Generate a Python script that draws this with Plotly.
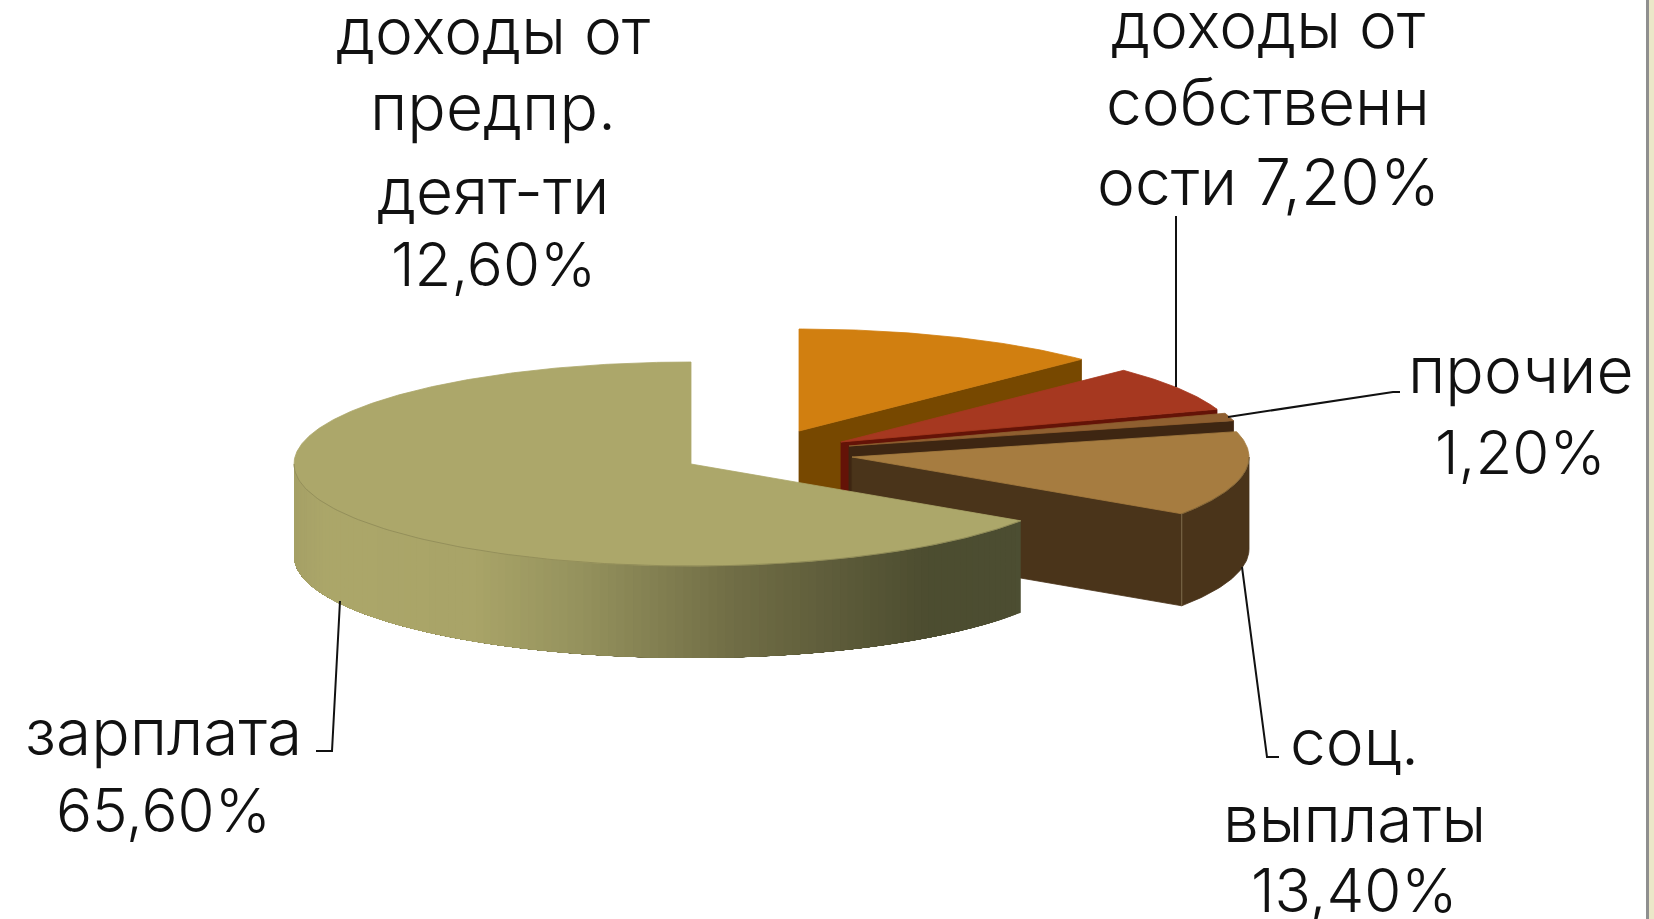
import numpy as np
import plotly.graph_objects as go

# ---- data (clockwise from 12 o'clock) ----
categories = ["доходы от предпр. деят-ти", "доходы от собственности", "прочие", "соц. выплаты", "зарплата"]
values = [12.6, 7.2, 1.2, 13.4, 65.6]
label_lines = [["доходы от", "предпр.", "деят-ти"], ["доходы от", "собственн"], ["прочие"], ["соц.", "выплаты"], ["зарплата"]]

# ---- style ----
top_colors = ["#d17f10", "#a63820", "#8f5f30", "#a67c40", "#aca76a"]
side_colors = ["#774800", "#641307", "#3e2612", "#4a341a", "#4c4e32"]
centers_x = [799, 841, 849, 852, 691]
centers_y = [431, 442, 446, 457, 464]
RX, RY, DEPTH = 397, 102, 92
FONT = "Inter"
FS_WORD = 64
FS_NUM = 60
TXT = "#111111"

grad_x = [292, 330, 480, 580, 730, 930, 1018]
grad_rgb = np.array([[165,160,102],[172,167,106],[169,164,104],[150,147,94],[114,111,71],[77,77,48],[76,78,50]], float)

fig = go.Figure()

def poly(xs, ys, fill, line=None, lw=0.8, name=""):
    fig.add_trace(go.Scatter(x=list(xs), y=list(ys), mode="lines", fill="toself", fillcolor=fill,
                             line=dict(color=line or fill, width=lw), hoverinfo="text", text=name,
                             showlegend=False))

def rim(i, deg, dz=0.0):
    t = np.radians(deg)
    return centers_x[i] + RX*np.sin(t), centers_y[i] - RY*np.cos(t) + dz

edges = np.concatenate([[0], np.cumsum(values)]) * 3.6
for i, cat in enumerate(categories):
    a, b = edges[i], edges[i+1]
    cx, cy = centers_x[i], centers_y[i]
    if i < 4:
        ex, ey = rim(i, b)
        poly([cx, ex, ex, cx, cx], [cy, ey, ey+DEPTH, cy+DEPTH, cy], side_colors[i], name=cat)
    lo, hi = max(a, 90), min(b, 270)
    if hi > lo:
        if i == 4:
            steps = np.linspace(lo, hi, 121)[:-1]
            for s0 in steps:
                th = np.linspace(s0, hi, 40)
                xs, ys = rim(i, th)
                rgb = [np.interp(xs[0], grad_x, grad_rgb[:, k]) for k in range(3)]
                c = "rgb(%d,%d,%d)" % tuple(rgb)
                poly(np.r_[xs, xs[::-1], xs[0]], np.r_[ys, ys[::-1]+DEPTH, ys[0]], c, lw=0, name=cat)
        else:
            th = np.linspace(lo, hi, 40)
            xs, ys = rim(i, th)
            poly(np.r_[xs, xs[::-1], xs[0]], np.r_[ys, ys[::-1]+DEPTH, ys[0]], side_colors[i], name=cat)
    th = np.linspace(a, b, max(8, int(b-a)*2))
    xs, ys = rim(i, th)
    poly(np.r_[cx, xs, cx], np.r_[cy, ys, cy], top_colors[i], name=cat)
    if i >= 3:
        th2 = np.linspace(max(a, 90), min(b, 270), 120)
        xs2, ys2 = rim(i, th2)
        fig.add_trace(go.Scatter(x=xs2, y=ys2, mode="lines", line=dict(color="#8a8555" if i == 4 else "#7a6238", width=0.7),
                                 hoverinfo="skip", showlegend=False))

sx, sy = rim(3, edges[4])
fig.add_trace(go.Scatter(x=[sx, sx], y=[sy, sy+DEPTH], mode="lines", line=dict(color="#7f6c4c", width=1),
                         hoverinfo="skip", showlegend=False))

def leader(xs, ys):
    fig.add_trace(go.Scatter(x=xs, y=ys, mode="lines", line=dict(color="#111111", width=2),
                             hoverinfo="skip", showlegend=False))
leader([1176, 1176], [216, 387])
leader([1228, 1393, 1400], [417, 392, 392])
leader([1242, 1267, 1279], [567, 757, 757])
leader([340, 332, 316], [601, 751, 751])

def pct(v):
    return f"{v:.2f}%".replace(".", ",")

blocks = [
    (493, [30, 106, 190, 264], label_lines[0] + [pct(values[0])]),
    (1268, [24, 101, 181], label_lines[1] + ["ости " + pct(values[1])]),
    (1520, [369, 452], label_lines[2] + [pct(values[2])]),
    (1354, [741, 818, 890], label_lines[3] + [pct(values[3])]),
    (163, [731, 810], label_lines[4] + [pct(values[4])]),
]
anns = []
for bx, ys, lines in blocks:
    for yy, t in zip(ys, lines):
        size = FS_NUM if t[0].isdigit() else FS_WORD
        anns.append(dict(x=bx, y=yy, text=t, showarrow=False, xanchor="center", yanchor="middle",
                         font=dict(family=FONT, size=size, color=TXT, weight=300)))

fig.update_layout(
    width=1654, height=919, margin=dict(l=0, r=0, t=0, b=0),
    paper_bgcolor="white", plot_bgcolor="white", showlegend=False,
    xaxis=dict(range=[0, 1654], visible=False, fixedrange=True),
    yaxis=dict(range=[919, 0], visible=False, fixedrange=True),
    annotations=anns,
    shapes=[
        dict(type="rect", x0=1646, x1=1649, y0=0, y1=919, fillcolor="#8f8f8f", line_width=0, layer="above"),
        dict(type="rect", x0=1649, x1=1654, y0=0, y1=919, fillcolor="#ebe7c8", line_width=0, layer="above"),
    ],
)
fig.write_html("out.html", config={"displayModeBar": False},
               post_script="document.body.style.margin='0';document.documentElement.style.overflow='hidden';")
